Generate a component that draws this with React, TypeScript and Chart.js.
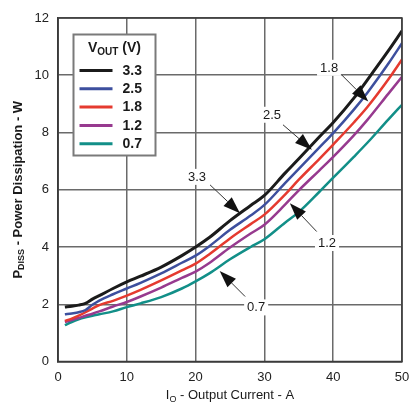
import React, { useEffect, useRef } from "react";
import { Chart, registerables } from "chart.js";

Chart.register(...registerables);

// ---------- data ----------
const currentA = [1, 2, 3, 4, 5, 6, 8, 10, 12, 15, 18, 20, 22, 25, 28, 30, 33, 35, 38, 40, 43, 45, 48, 50];
const pd33 = [1.9, 1.93, 1.97, 2.03, 2.18, 2.3, 2.55, 2.78, 2.98, 3.3, 3.7, 4.0, 4.33, 4.92, 5.45, 5.8, 6.58, 7.08, 7.85, 8.35, 9.2, 9.85, 10.85, 11.55];
const pd25 = [1.65, 1.68, 1.72, 1.8, 1.98, 2.13, 2.35, 2.55, 2.75, 3.08, 3.45, 3.7, 4.03, 4.6, 5.1, 5.47, 6.23, 6.73, 7.48, 7.98, 8.8, 9.4, 10.4, 11.12];
const pd18 = [1.42, 1.5, 1.6, 1.72, 1.85, 1.97, 2.12, 2.3, 2.5, 2.83, 3.18, 3.42, 3.75, 4.3, 4.8, 5.13, 5.83, 6.35, 7.08, 7.58, 8.35, 8.9, 9.85, 10.55];
const pd12 = [1.38, 1.45, 1.52, 1.6, 1.67, 1.75, 1.92, 2.08, 2.27, 2.58, 2.92, 3.14, 3.44, 3.98, 4.47, 4.78, 5.48, 5.98, 6.68, 7.15, 7.9, 8.45, 9.35, 9.95];
const pd07 = [1.27, 1.38, 1.47, 1.54, 1.6, 1.65, 1.75, 1.9, 2.03, 2.25, 2.55, 2.8, 3.08, 3.57, 4.0, 4.27, 4.85, 5.22, 5.93, 6.42, 7.15, 7.65, 8.45, 8.97];

const seriesLabels = ["3.3", "2.5", "1.8", "1.2", "0.7"];
const seriesValues = [pd33, pd25, pd18, pd12, pd07];
const seriesColors = ["#1b1b1b", "#3d4f9e", "#e53a2f", "#973a8f", "#128f88"];
const seriesWidths = [3, 2.5, 2.5, 2.5, 2.5];

const xTicks = [0, 10, 20, 30, 40, 50];
const yTicks = [0, 2, 4, 6, 8, 10, 12];

const legendTitle = [{ t: "V" }, { t: "OUT", sub: true }, { t: " (V)" }];
const xTitle = [{ t: "I" }, { t: "O", sub: true }, { t: " - Output Current - A" }];
const yTitle = [{ t: "P" }, { t: "DISS", sub: true }, { t: " - Power Dissipation - W" }];

// callouts in data units: label centre, arrow start, arrow tip
const callouts = [
  { text: "3.3", lx: 20.2, ly: 6.45, sx: 22.1, sy: 6.17, tx: 26.45, ty: 5.18 },
  { text: "2.5", lx: 31.1, ly: 8.62, sx: 32.7, sy: 8.27, tx: 36.9, ty: 7.4 },
  { text: "1.8", lx: 39.4, ly: 10.26, sx: 41.2, sy: 10.02, tx: 45.1, ty: 9.08 },
  { text: "1.2", lx: 39.1, ly: 4.14, sx: 37.6, sy: 4.54, tx: 33.7, ty: 5.53 },
  { text: "0.7", lx: 28.8, ly: 1.89, sx: 27.2, sy: 2.27, tx: 23.5, ty: 3.16 },
];

const FONT = "'Liberation Sans', Arial, sans-serif";

type Part = { t: string; sub?: boolean };

function drawRich(ctx: CanvasRenderingContext2D, parts: Part[], x: number, y: number, size: number, bold: boolean) {
  const w = bold ? "bold " : "";
  const subSize = Math.round(size * 0.72);
  let total = 0;
  for (const p of parts) {
    ctx.font = `${w}${p.sub ? subSize : size}px ${FONT}`;
    total += ctx.measureText(p.t).width;
  }
  let cx = x - total / 2;
  ctx.textAlign = "left";
  ctx.textBaseline = "middle";
  for (const p of parts) {
    ctx.font = `${w}${p.sub ? subSize : size}px ${FONT}`;
    ctx.fillText(p.t, cx, p.sub ? y + size * 0.28 : y);
    cx += ctx.measureText(p.t).width;
  }
}

const overlayPlugin = {
  id: "overlay",
  afterDatasetsDraw(chart: any) {
    const { ctx, chartArea, scales } = chart;
    const xs = scales.x;
    const ys = scales.y;
    ctx.save();

    // frame
    ctx.strokeStyle = "#3a3a3a";
    ctx.lineWidth = 1.5;
    ctx.strokeRect(chartArea.left, chartArea.top, chartArea.right - chartArea.left, chartArea.bottom - chartArea.top);

    // callouts
    for (const c of callouts) {
      const lx = xs.getPixelForValue(c.lx);
      const ly = ys.getPixelForValue(c.ly);
      const sx = xs.getPixelForValue(c.sx);
      const sy = ys.getPixelForValue(c.sy);
      const tx = xs.getPixelForValue(c.tx);
      const ty = ys.getPixelForValue(c.ty);
      ctx.font = `13px ${FONT}`;
      const tw = ctx.measureText(c.text).width;
      ctx.fillStyle = "#ffffff";
      ctx.fillRect(lx - tw / 2 - 3, ly - 8, tw + 6, 16);
      ctx.fillStyle = "#1a1a1a";
      ctx.textAlign = "center";
      ctx.textBaseline = "middle";
      ctx.fillText(c.text, lx, ly + 0.5);
      // arrow
      const ang = Math.atan2(ty - sy, tx - sx);
      const headLen = 17;
      const headHalf = 6;
      const bx = tx - headLen * Math.cos(ang);
      const by = ty - headLen * Math.sin(ang);
      ctx.strokeStyle = "#333";
      ctx.lineWidth = 1;
      ctx.beginPath();
      ctx.moveTo(sx, sy);
      ctx.lineTo(bx, by);
      ctx.stroke();
      ctx.fillStyle = "#111";
      ctx.beginPath();
      ctx.moveTo(tx, ty);
      ctx.lineTo(bx + headHalf * Math.sin(ang), by - headHalf * Math.cos(ang));
      ctx.lineTo(bx - headHalf * Math.sin(ang), by + headHalf * Math.cos(ang));
      ctx.closePath();
      ctx.fill();
    }

    // legend
    const L = chartArea.left + 15.5;
    const T = chartArea.top + 16.5;
    const W = 82;
    const H = 121;
    ctx.fillStyle = "#ffffff";
    ctx.fillRect(L, T, W, H);
    ctx.strokeStyle = "#7a7a7a";
    ctx.lineWidth = 2;
    ctx.strokeRect(L, T, W, H);
    ctx.fillStyle = "#1a1a1a";
    drawRich(ctx, legendTitle, L + 41, T + 14, 14, true);
    chart.data.datasets.forEach((ds: any, i: number) => {
      const ry = T + 36 + i * 18.3;
      ctx.strokeStyle = ds.borderColor;
      ctx.lineWidth = 3;
      ctx.beginPath();
      ctx.moveTo(L + 6, ry);
      ctx.lineTo(L + 39, ry);
      ctx.stroke();
      ctx.fillStyle = "#1a1a1a";
      ctx.font = `bold 14px ${FONT}`;
      ctx.textAlign = "left";
      ctx.textBaseline = "middle";
      ctx.fillText(ds.label, L + 49, ry + 0.5);
    });

    // axis titles
    ctx.fillStyle = "#1a1a1a";
    drawRich(ctx, xTitle, (chartArea.left + chartArea.right) / 2, chartArea.bottom + 34, 13, false);
    ctx.translate(18, (chartArea.top + chartArea.bottom) / 2);
    ctx.rotate(-Math.PI / 2);
    drawRich(ctx, yTitle, 0, 0, 13, true);
    ctx.restore();
  },
};

export default function App() {
  const ref = useRef<HTMLCanvasElement | null>(null);
  useEffect(() => {
    if (!ref.current) return;
    const chart = new Chart(ref.current, {
      type: "line",
      data: {
        datasets: seriesLabels.map((lab, i) => ({
          label: lab,
          data: currentA.map((x, j) => ({ x, y: seriesValues[i][j] })),
          borderColor: seriesColors[i],
          backgroundColor: seriesColors[i],
          borderWidth: seriesWidths[i],
          pointRadius: 0,
          cubicInterpolationMode: "monotone",
          fill: false,
        })),
      },
      options: {
        responsive: false,
        animation: false,
        layout: { padding: { left: 0, top: 18, right: 18, bottom: 0 } },
        plugins: { legend: { display: false }, tooltip: { enabled: false } },
        scales: {
          x: {
            type: "linear",
            min: 0,
            max: 50,
            afterBuildTicks: (s: any) => {
              s.ticks = xTicks.map((v) => ({ value: v }));
            },
            afterFit: (s: any) => {
              s.height = 50.5;
            },
            ticks: { color: "#222", font: { family: FONT, size: 13 }, padding: 8, maxRotation: 0 },
            grid: { color: "#6a6a6a", lineWidth: 1.5, drawTicks: false },
            border: { color: "#3a3a3a", width: 1.5 },
          },
          y: {
            type: "linear",
            min: 0,
            max: 12,
            afterBuildTicks: (s: any) => {
              s.ticks = yTicks.map((v) => ({ value: v }));
            },
            afterFit: (s: any) => {
              s.width = 58;
            },
            ticks: { color: "#222", font: { family: FONT, size: 13 }, padding: 9 },
            grid: { color: "#6a6a6a", lineWidth: 1.5, drawTicks: false },
            border: { color: "#3a3a3a", width: 1.5 },
          },
        },
      },
      plugins: [overlayPlugin],
    });
    return () => chart.destroy();
  }, []);
  return (
    <div style={{ position: "fixed", left: 0, top: 0, width: 420, height: 412, background: "#fff" }}>
      <canvas ref={ref} width={420} height={412} />
    </div>
  );
}
